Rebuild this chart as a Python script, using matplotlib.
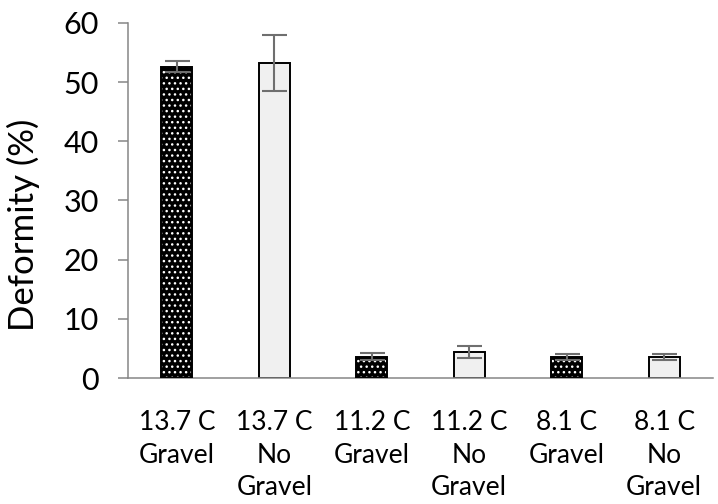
import matplotlib
matplotlib.use('agg')
import matplotlib.pyplot as plt
import numpy as np

plt.rcParams['font.family'] = ['Lato', 'DejaVu Sans']
plt.rcParams['hatch.linewidth'] = 1.0

labels = ['13.7 C\nGravel', '13.7 C\nNo\nGravel', '11.2 C\nGravel',
          '11.2 C\nNo\nGravel', '8.1 C\nGravel', '8.1 C\nNo\nGravel']
deform = [52.6, 53.2, 3.6, 4.4, 3.5, 3.5]
err = [0.9, 4.7, 0.6, 1.0, 0.5, 0.5]
gravel = [True, False, True, False, True, False]

fig = plt.figure(figsize=(7.18, 5.04), dpi=100)
ax = fig.add_axes([0.1783, 0.25, 0.8147, 0.7044])

x = np.arange(len(labels))
w = 0.32
grey = '#868686'
for i in range(len(x)):
    if gravel[i]:
        # black fill, white dots, then black outline on top
        ax.bar(x[i], deform[i], w, color='black', edgecolor='white',
               hatch='...', linewidth=0, zorder=2)
        ax.bar(x[i], deform[i], w, fill=False, edgecolor='black',
               linewidth=1.4, zorder=3)
    else:
        ax.bar(x[i], deform[i], w, color='#f0f0f0', edgecolor='black',
               linewidth=1.4, zorder=2)

ax.errorbar(x, deform, yerr=err, fmt='none', ecolor='#6f6f6f',
            elinewidth=1.5, capsize=9, capthick=1.5, zorder=4)

ax.set_xlim(-0.5, len(x) - 0.5)
ax.set_ylim(0, 60)
ax.set_yticks(np.arange(0, 61, 10))
ax.set_xticks(x)
ax.set_xticklabels(labels, fontsize=19, linespacing=1.38)
ax.tick_params(axis='x', length=0, pad=23)
ax.tick_params(axis='y', labelsize=22, length=7, width=1.1, color=grey, pad=14)

for s in ['top', 'right']:
    ax.spines[s].set_visible(False)
for s in ['left', 'bottom']:
    ax.spines[s].set_color(grey)
    ax.spines[s].set_linewidth(1.1)

ax.set_ylabel('Deformity (%)', fontsize=25)
ax.yaxis.set_label_coords(-0.150, 0.431)

plt.savefig('out.png', dpi=100)
